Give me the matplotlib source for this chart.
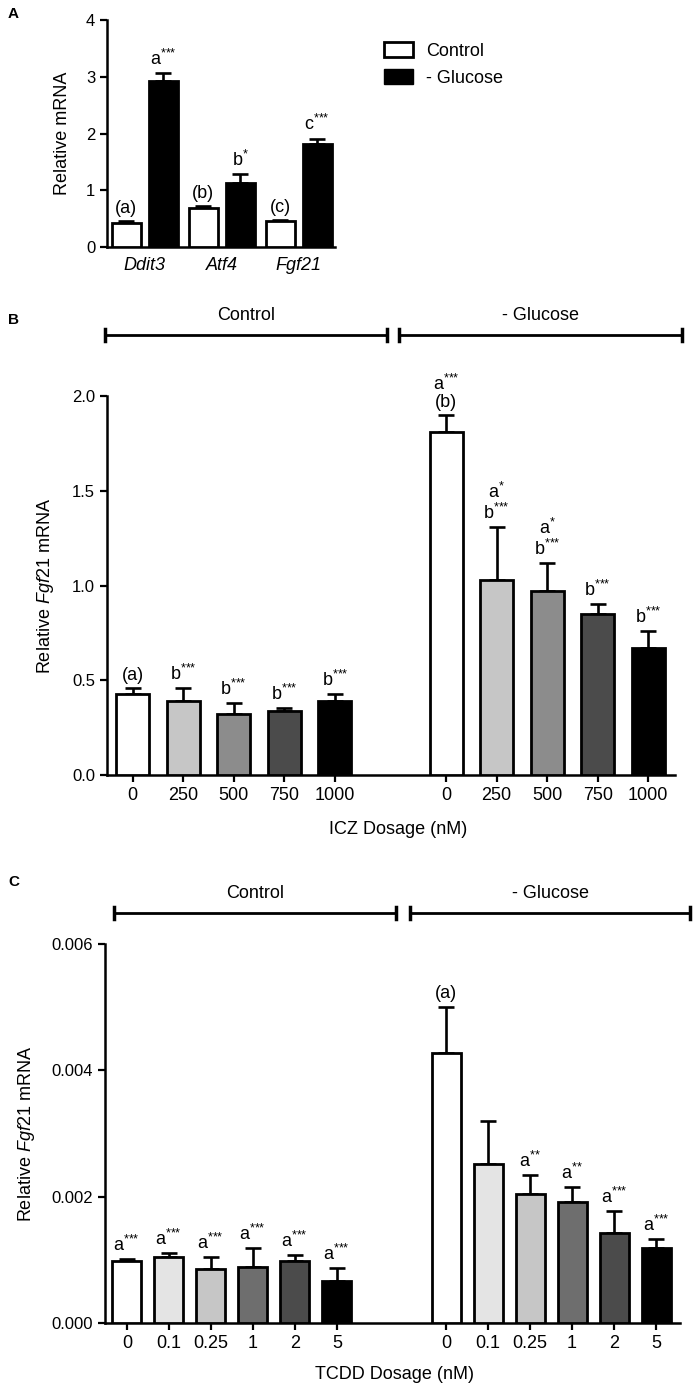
import matplotlib
matplotlib.use('Agg')
import matplotlib.pyplot as plt
from matplotlib.lines import Line2D
from matplotlib.patches import Patch
import numpy as np

plt.rcParams['font.family'] = ['Liberation Sans', 'DejaVu Sans']
plt.rcParams['mathtext.fontset'] = 'custom'
plt.rcParams['mathtext.rm'] = 'Liberation Sans'
plt.rcParams['mathtext.it'] = 'Liberation Sans:italic'

# ---- data ----
# panel A
genes = ['Ddit3', 'Atf4', 'Fgf21']
a_ctrl = [0.42, 0.68, 0.45]
a_ctrl_err = [0.04, 0.04, 0.03]
a_glc = [2.93, 1.13, 1.82]
a_glc_err = [0.13, 0.15, 0.09]
a_ctrl_lbl = ['(a)', '(b)', '(c)']
a_glc_lbl = ['a***', 'b*', 'c***']

# panel B (ICZ)
icz_dose = ['0', '250', '500', '750', '1000']
b_ctrl = [0.43, 0.39, 0.32, 0.34, 0.39]
b_ctrl_err = [0.03, 0.07, 0.06, 0.012, 0.035]
b_glc = [1.81, 1.03, 0.97, 0.85, 0.67]
b_glc_err = [0.09, 0.28, 0.15, 0.05, 0.09]
b_ctrl_lbl = ['(a)', 'b***', 'b***', 'b***', 'b***']
b_glc_lbl = ['a***\n(b)', 'a*\nb***', 'a*\nb***', 'b***', 'b***']
b_colors = ['white', '#c6c6c6', '#8c8c8c', '#4b4b4b', 'black']

# panel C (TCDD)
tcdd_dose = ['0', '0.1', '0.25', '1', '2', '5']
c_ctrl = [0.00098, 0.00104, 0.00086, 0.00089, 0.00098, 0.00066]
c_ctrl_err = [0.00003, 0.00007, 0.00018, 0.00030, 0.00009, 0.00021]
c_glc = [0.00427, 0.00251, 0.00204, 0.00191, 0.00143, 0.00119]
c_glc_err = [0.00074, 0.00068, 0.00030, 0.00024, 0.00034, 0.00014]
c_ctrl_lbl = ['a***'] * 6
c_glc_lbl = ['(a)', '', 'a**', 'a**', 'a***', 'a***']
c_colors = ['white', '#e4e4e4', '#c6c6c6', '#6e6e6e', '#4b4b4b', 'black']

W, H = 693, 1387
fig = plt.figure(figsize=(W / 100, H / 100), dpi=100)


def box(l, t, r, b):
    return [l / W, 1 - b / H, (r - l) / W, (b - t) / H]


def sup(s):
    # "a***" -> a with superscript stars (braces keep mathtext from spacing the *)
    out = []
    for line in s.split('\n'):
        base = line.rstrip('*')
        stars = line[len(base):]
        if stars:
            out.append(r'$\mathregular{%s^{%s}}$' % (base, ''.join('{*}' for _ in stars)))
        else:
            out.append(line)
    return '\n'.join(out)


def style(ax):
    for s in ['top', 'right']:
        ax.spines[s].set_visible(False)
    for s in ['left', 'bottom']:
        ax.spines[s].set_linewidth(1.8)
    ax.tick_params(width=1.6, length=5, labelsize=12)


def bars(ax, x, vals, errs, colors, width, labels):
    ax.bar(x, vals, width, color=colors, edgecolor='black', linewidth=2.0, zorder=3)
    ax.errorbar(x, vals, yerr=[np.zeros(len(vals)), errs], fmt='none', ecolor='black',
                elinewidth=1.9, capsize=6, capthick=1.9, zorder=2)
    for xi, v, e, lb in zip(x, vals, errs, labels):
        if lb:
            ax.annotate(sup(lb), (xi, v + e), xytext=(0, 3), textcoords='offset points',
                        ha='center', va='bottom', fontsize=13, linespacing=1.0)


def bracket(x0, x1, y, label, ly):
    fig.add_artist(Line2D([x0 / W, x1 / W], [1 - y / H] * 2, color='black', lw=2))
    for xe in (x0, x1):
        fig.add_artist(Line2D([xe / W] * 2, [1 - (y - 6) / H, 1 - (y + 6) / H],
                              color='black', lw=2.5))
    fig.text((x0 + x1) / 2 / W, 1 - ly / H, label, ha='center', va='center', fontsize=13)


# ---- A ----
axA = fig.add_axes(box(107, 20, 335, 247))
style(axA)
xa = np.arange(len(genes))
bars(axA, xa - 0.24, a_ctrl, a_ctrl_err, 'white', 0.38, a_ctrl_lbl)
bars(axA, xa + 0.24, a_glc, a_glc_err, 'black', 0.38, a_glc_lbl)
axA.set_xlim(-0.49, 2.47)
axA.set_ylim(0, 4)
axA.set_yticks([0, 1, 2, 3, 4])
axA.set_xticks(xa)
axA.set_xticklabels(genes, style='italic', fontsize=13)
axA.tick_params(axis='x', length=0, pad=7)
axA.set_ylabel('Relative mRNA', fontsize=13)
axA.yaxis.label.set_va('center')
axA.yaxis.set_label_coords(-0.195, 0.5)
fig.legend(handles=[Patch(facecolor='white', edgecolor='black', linewidth=2, label='Control'),
                    Patch(facecolor='black', edgecolor='black', label='- Glucose')],
           loc='upper left', bbox_to_anchor=(368 / W, 1 - 26 / H), frameon=False,
           fontsize=13, handlelength=1.6, handleheight=0.9, handletextpad=0.7,
           labelspacing=0.5)
fig.text(8 / W, 1 - 14 / H, 'A', fontsize=11, weight='bold', va='center')

# ---- B ----
axB = fig.add_axes(box(107, 396, 675, 775))
style(axB)
xb_ctrl = np.arange(len(icz_dose))
xb_glc = np.arange(len(icz_dose)) + 6.2
bars(axB, xb_ctrl, b_ctrl, b_ctrl_err, b_colors, 0.65, b_ctrl_lbl)
bars(axB, xb_glc, b_glc, b_glc_err, b_colors, 0.65, b_glc_lbl)
axB.set_xlim(-0.51, 10.73)
axB.set_ylim(0, 2.0)
axB.set_yticks([0, 0.5, 1.0, 1.5, 2.0])
axB.set_xticks(np.concatenate([xb_ctrl, xb_glc]))
axB.set_xticklabels(icz_dose * 2, fontsize=13)
axB.set_ylabel(r'Relative $\mathit{Fgf21}$ mRNA', fontsize=13)
axB.yaxis.label.set_va('center')
axB.yaxis.set_label_coords(-0.108, 0.5)
axB.set_xlabel('ICZ Dosage (nM)', fontsize=13)
axB.xaxis.label.set_va('center')
axB.xaxis.set_label_coords(0.512, -0.145)
bracket(105, 387, 335, 'Control', 315)
bracket(399, 682, 335, '- Glucose', 315)
fig.text(8 / W, 1 - 320 / H, 'B', fontsize=11, weight='bold', va='center')

# ---- C ----
axC = fig.add_axes(box(105, 944, 680, 1323))
style(axC)
xc_ctrl = np.arange(len(tcdd_dose))
xc_glc = np.arange(len(tcdd_dose)) + 7.6
bars(axC, xc_ctrl, c_ctrl, c_ctrl_err, c_colors, 0.69, c_ctrl_lbl)
bars(axC, xc_glc, c_glc, c_glc_err, c_colors, 0.69, c_glc_lbl)
axC.set_xlim(-0.52, 13.17)
axC.set_ylim(0, 0.006)
axC.set_yticks([0, 0.002, 0.004, 0.006])
axC.set_yticklabels(['0.000', '0.002', '0.004', '0.006'])
axC.set_xticks(np.concatenate([xc_ctrl, xc_glc]))
axC.set_xticklabels(tcdd_dose * 2, fontsize=13)
axC.set_ylabel(r'Relative $\mathit{Fgf21}$ mRNA', fontsize=13)
axC.yaxis.label.set_va('center')
axC.yaxis.set_label_coords(-0.137, 0.5)
axC.set_xlabel('TCDD Dosage (nM)', fontsize=13)
axC.xaxis.label.set_va('center')
axC.xaxis.set_label_coords(0.504, -0.137)
bracket(114, 396, 913, 'Control', 893)
bracket(410, 690, 913, '- Glucose', 893)
fig.text(8 / W, 1 - 882 / H, 'C', fontsize=11, weight='bold', va='center')

fig.savefig('out.png', dpi=100)
